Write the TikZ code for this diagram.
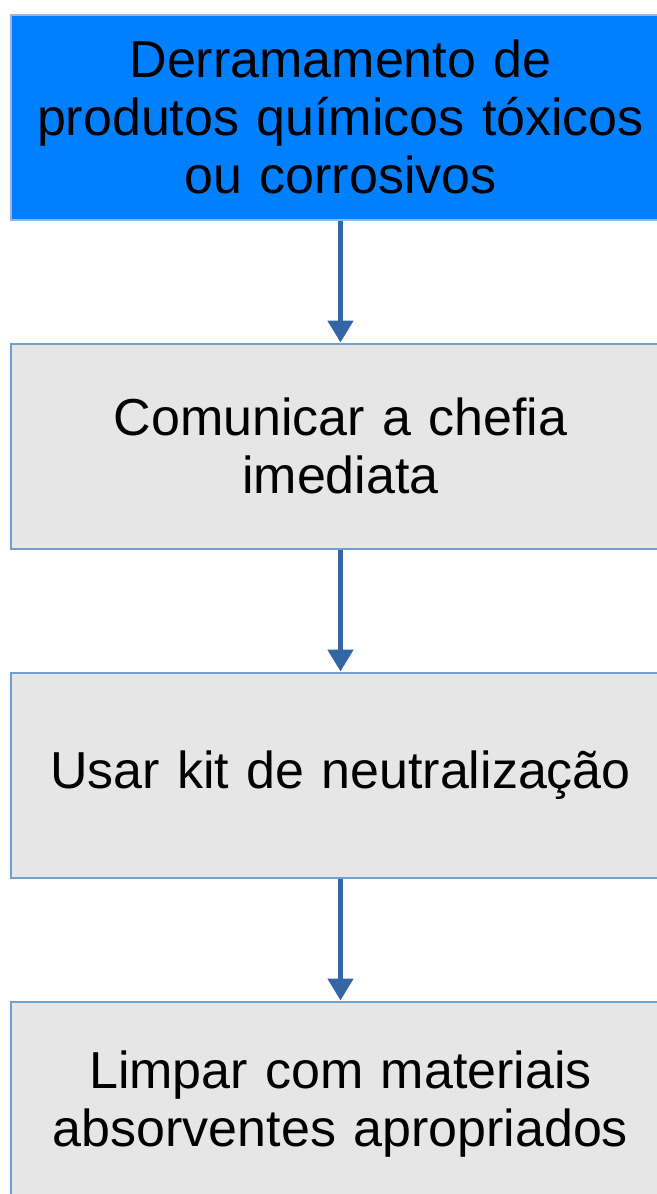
\documentclass[tikz,border=0pt]{standalone}
\usepackage{fontspec}
\setmainfont{Liberation Sans}[WordSpace=0.8]
\usetikzlibrary{arrows.meta,positioning}
\definecolor{topblue}{RGB}{0,128,255}
\definecolor{topedge}{RGB}{90,130,190}
\definecolor{stepgray}{RGB}{230,230,230}
\definecolor{stepedge}{RGB}{114,159,207}
\definecolor{arrowblue}{RGB}{52,101,164}
\begin{document}
\begin{tikzpicture}[
  x=1pt,y=1pt,
  stepbox/.style={draw=stepedge,fill=stepgray,line width=2pt,minimum width=659pt,minimum height=205pt,
    text width=645pt,align=center,inner sep=0pt,font=\fontsize{52}{58}\selectfont},
  startbox/.style={stepbox,fill=topblue,draw=topedge!60},
  flow/.style={draw=arrowblue,line width=5pt,-{Triangle[width=25pt,length=22pt]}}
]
\useasboundingbox (0,0) rectangle (656,-1194);
\node[startbox] (spill) at (340.5,-117) {Derramamento de\\produtos químicos tóxicos\\ou corrosivos};
\node[stepbox,below=122pt of spill] (notify) {Comunicar a chefia\\imediata};
\node[stepbox,below=122pt of notify] (neutral) {Usar kit de neutralização};
\node[stepbox,below=122pt of neutral] (clean) {Limpar com materiais\\absorventes apropriados};
\draw[flow] (spill) -- (notify);
\draw[flow] (notify) -- (neutral);
\draw[flow] (neutral) -- (clean);
\end{tikzpicture}
\end{document}
